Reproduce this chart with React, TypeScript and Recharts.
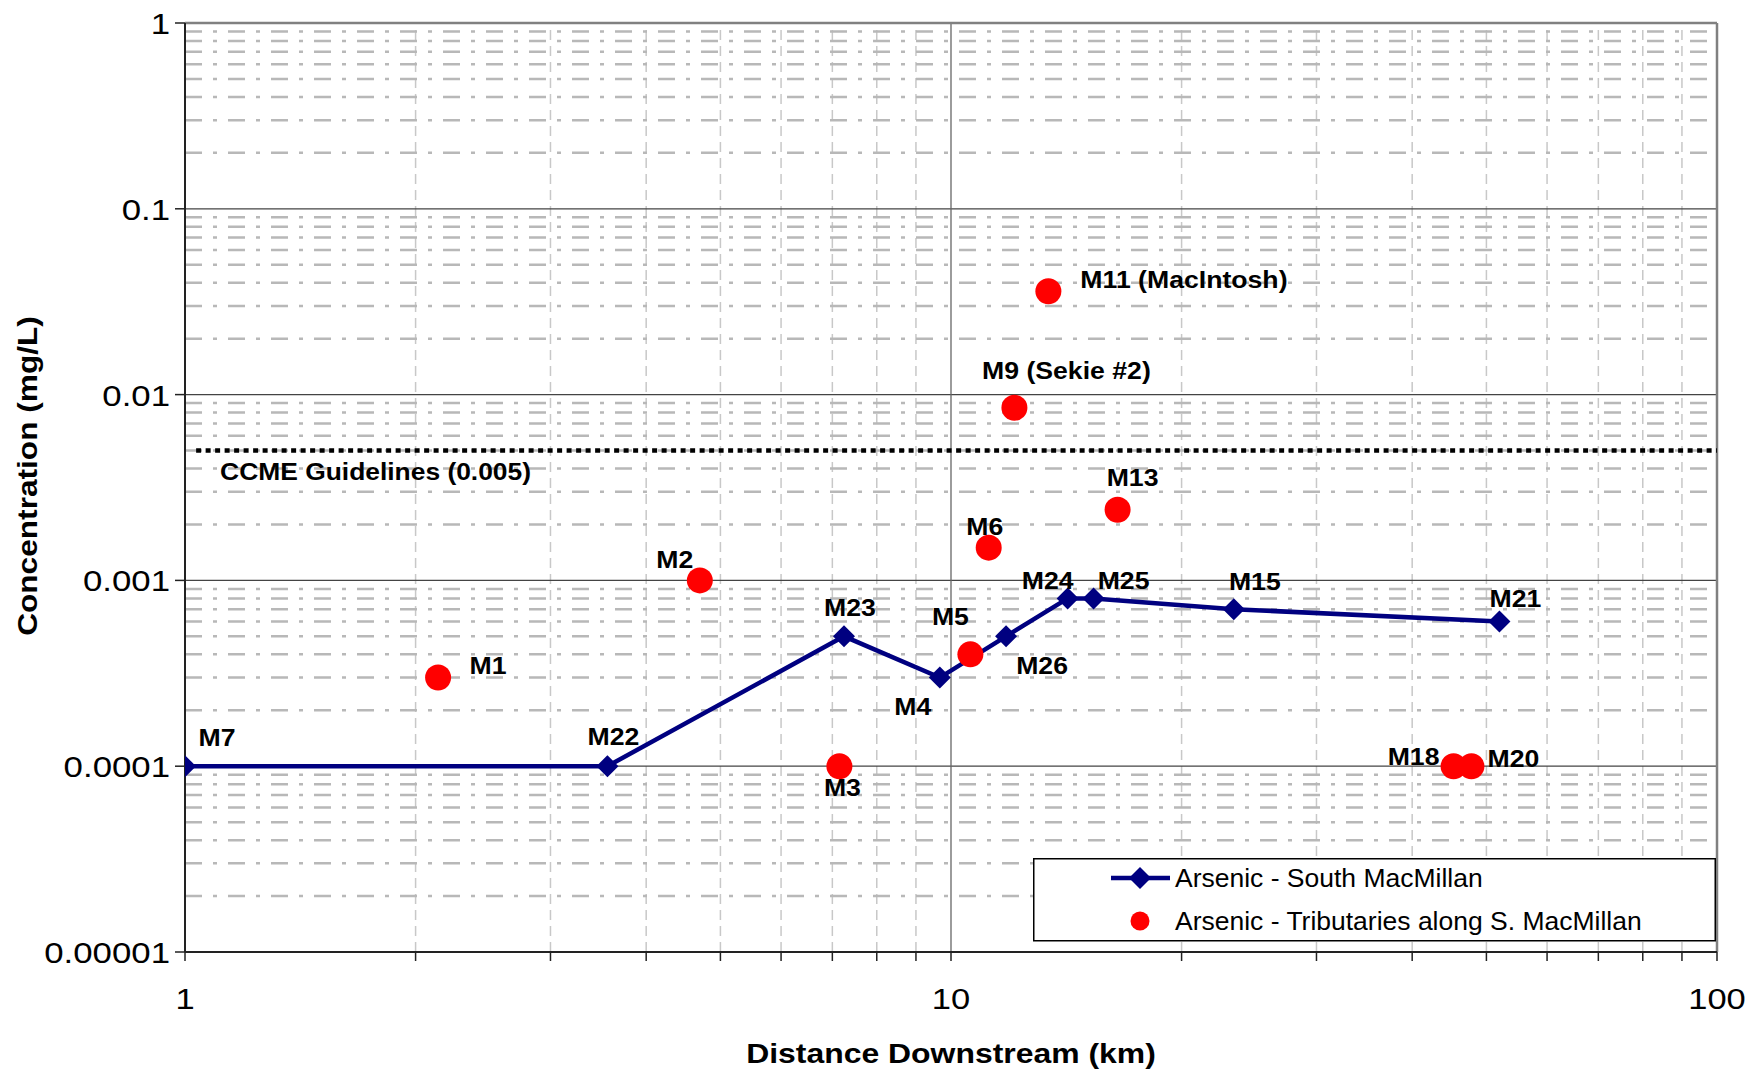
import { ComposedChart, Line, Scatter, XAxis, YAxis, ReferenceLine, Legend } from 'recharts'

// South MacMillan main-stem stations
const mainStations = ['M7', 'M22', 'M23', 'M4', 'M26', 'M24', 'M25', 'M15', 'M21']
const mainDistance = [1, 3.56, 7.25, 9.67, 11.8, 14.2, 15.35, 23.4, 52]
const mainArsenic = [0.0001, 0.0001, 0.0005, 0.0003, 0.0005, 0.0008, 0.0008, 0.0007, 0.0006]

// tributaries along S. MacMillan
const tribStations = ['M1', 'M2', 'M3', 'M5', 'M6', 'M9 (Sekie #2)', 'M11 (MacIntosh)', 'M13', 'M18', 'M20']
const tribDistance = [2.14, 4.7, 7.15, 10.6, 11.2, 12.1, 13.4, 16.5, 45.3, 47.8]
const tribArsenic = [0.0003, 0.001, 0.0001, 0.0004, 0.0015, 0.0085, 0.036, 0.0024, 0.0001, 0.0001]

const ccmeGuideline = 0.005
const ccmeLabel = 'CCME Guidelines (0.005)'

const xTicks = [1, 2, 3, 4, 5, 6, 7, 8, 9, 10, 20, 30, 40, 50, 60, 70, 80, 90, 100]
const xTickLabels: Record<number, string> = { 1: '1', 10: '10', 100: '100' }
const yTicks = [0.00001, 0.0001, 0.001, 0.01, 0.1, 1]
const yTickLabels = ['0.00001', '0.0001', '0.001', '0.01', '0.1', '1']

const xMinor = [2, 3, 4, 5, 6, 7, 8, 9, 20, 30, 40, 50, 60, 70, 80, 90]
const yDecades = [0.00001, 0.0001, 0.001, 0.01, 0.1]
const yMinorSteps = [2, 3, 4, 5, 6, 7, 8, 9]
const yMinor = yDecades.flatMap(d => yMinorSteps.map(m => +(d * m).toPrecision(3)))
const yMajor = [0.0001, 0.001, 0.01, 0.1]

// where each station label sits relative to its marker
const labelPlace: Record<string, [number, number, 'middle' | 'start']> = {
  M7: [32, -29, 'middle'],
  M22: [6, -30, 'middle'],
  M23: [6, -29, 'middle'],
  M4: [-27, 29, 'middle'],
  M26: [36, 29, 'middle'],
  M24: [-20, -18, 'middle'],
  M25: [30, -18, 'middle'],
  M15: [21, -28, 'middle'],
  M21: [16, -23, 'middle'],
  M1: [50, -12, 'middle'],
  M2: [-25, -21, 'middle'],
  M3: [3, 21, 'middle'],
  M5: [-20, -38, 'middle'],
  M6: [-4, -21, 'middle'],
  'M9 (Sekie #2)': [52, -37, 'middle'],
  'M11 (MacIntosh)': [32, -12, 'start'],
  M13: [15, -32, 'middle'],
  M18: [-40, -10, 'middle'],
  M20: [42, -8, 'middle'],
}

const mainData = mainStations.map((name, i) => ({ name, x: mainDistance[i], y: mainArsenic[i] }))
const tribData = tribStations.map((name, i) => ({ name, x: tribDistance[i], y: tribArsenic[i] }))

const FONT = '"Liberation Sans", Arial, sans-serif'
const NAVY = '#000080'
const RED = '#ff0000'

// the source chart's lettering runs a bit wider than Arial, so stretch it sideways
function SText({ x, y, size, bold, anchor = 'start', sx = 1, rotate = 0, children }: any) {
  return (
    <text
      transform={`translate(${x},${y}) rotate(${rotate}) scale(${sx},1)`}
      textAnchor={anchor}
      fontFamily={FONT}
      fontSize={size}
      fontWeight={bold ? 700 : 400}
      fill="#000"
    >
      {children}
    </text>
  )
}

function StationLabel({ cx, cy, name }: { cx: number; cy: number; name: string }) {
  const [dx, dy, anchor] = labelPlace[name] || [0, -20, 'middle']
  return (
    <SText x={cx + dx} y={cy + dy + 8.5} anchor={anchor} size={24} bold sx={1.11}>
      {name}
    </SText>
  )
}

function Diamond(props: any) {
  const { cx, cy, payload, index } = props
  const s = 11
  return (
    <g key={'d' + index}>
      <polygon points={`${cx},${cy - s} ${cx + s},${cy} ${cx},${cy + s} ${cx - s},${cy}`} fill={NAVY} />
      <StationLabel cx={cx} cy={cy} name={payload.name} />
    </g>
  )
}

function RedDot(props: any) {
  const { cx, cy, payload } = props
  return (
    <g>
      <circle cx={cx} cy={cy} r={13} fill={RED} />
      <StationLabel cx={cx} cy={cy} name={payload.name} />
    </g>
  )
}

function XTick(props: any) {
  const { x, y, payload } = props
  const label = xTickLabels[payload.value]
  if (!label) return <g />
  return (
    <SText x={x} y={y + 48} anchor="middle" size={30} sx={1.15}>
      {label}
    </SText>
  )
}

function YTick(props: any) {
  const { x, y, index } = props
  return (
    <SText x={x} y={y + 11} anchor="end" size={30} sx={1.16}>
      {yTickLabels[index]}
    </SText>
  )
}

function LegendBox() {
  return (
    <svg width={683} height={84} style={{ display: 'block' }}>
      <rect x={0.75} y={0.75} width={681.5} height={82} fill="#fff" stroke="#000" strokeWidth={1.5} />
      <line x1={78} y1={20} x2={137} y2={20} stroke={NAVY} strokeWidth={4.5} />
      <polygon points="107,9 118,20 107,31 96,20" fill={NAVY} />
      <SText x={142} y={29} size={25} sx={1.06}>Arsenic - South MacMillan</SText>
      <circle cx={107} cy={63} r={9.5} fill={RED} />
      <SText x={142} y={72} size={25} sx={1.06}>Arsenic - Tributaries along S. MacMillan</SText>
    </svg>
  )
}

export default function App() {
  return (
    <div style={{ position: 'absolute', left: 0, top: 0, background: '#fff' }}>
      <ComposedChart width={1750} height={1071} margin={{ top: 23, right: 33, bottom: 0, left: 0 }}>
        <XAxis
          type="number"
          dataKey="x"
          scale="log"
          domain={[1, 100]}
          allowDataOverflow
          ticks={xTicks}
          interval={0}
          height={119}
          tickSize={9}
          tickMargin={0}
          tick={XTick}
          axisLine={{ stroke: '#222', strokeWidth: 2 }}
          tickLine={{ stroke: '#222', strokeWidth: 1.5 }}
          label={{
            content: (p: any) => {
              const vb = p.viewBox
              return (
                <SText x={vb.x + vb.width / 2} y={vb.y + 110.5} anchor="middle" size={28} bold sx={1.14}>
                  Distance Downstream (km)
                </SText>
              )
            },
          }}
        />
        <YAxis
          type="number"
          dataKey="y"
          scale="log"
          domain={[0.00001, 1]}
          allowDataOverflow
          ticks={yTicks}
          interval={0}
          width={185}
          tickSize={10}
          tickMargin={5}
          tick={YTick}
          axisLine={{ stroke: '#222', strokeWidth: 2 }}
          tickLine={{ stroke: '#222', strokeWidth: 1.5 }}
          label={{
            content: () => (
              <SText x={37} y={476} rotate={-90} anchor="middle" size={28} bold sx={1.13}>
                Concentration (mg/L)
              </SText>
            ),
          }}
        />

        {xMinor.map(v => (
          <ReferenceLine key={'xm' + v} x={v} stroke="#c8c8c8" strokeWidth={1.5} strokeDasharray="10 6" />
        ))}
        {yMinor.map(v => (
          <ReferenceLine key={'ym' + v} y={v} stroke="#b8b8b8" strokeWidth={2.5} strokeDasharray="17 11 4 11" />
        ))}
        {yMajor.map(v => (
          <ReferenceLine key={'yM' + v} y={v} stroke="#444" strokeWidth={1.3} />
        ))}
        <ReferenceLine x={10} stroke="#666" strokeWidth={1.3} />
        <ReferenceLine y={1} stroke="#808080" strokeWidth={2.5} />
        <ReferenceLine x={100} stroke="#808080" strokeWidth={2.5} />

        <ReferenceLine
          segment={[{ x: 1.034, y: ccmeGuideline }, { x: 100, y: ccmeGuideline }]}
          stroke="#000"
          strokeWidth={4.5}
          strokeDasharray="5 4.5"
          label={{
            content: (p: any) => {
              const vb = p.viewBox || { x: 196, y: 450 }
              return (
                <SText x={vb.x + 24} y={vb.y + 29} size={24} bold sx={1.1}>
                  {ccmeLabel}
                </SText>
              )
            },
          }}
        />

        <Line
          data={mainData}
          dataKey="y"
          name="Arsenic - South MacMillan"
          stroke={NAVY}
          strokeWidth={4.5}
          dot={Diamond}
          activeDot={false}
          isAnimationActive={false}
        />
        <Scatter
          data={tribData}
          dataKey="y"
          name="Arsenic - Tributaries along S. MacMillan"
          fill={RED}
          shape={RedDot}
          isAnimationActive={false}
        />

        <Legend
          layout="vertical"
          align="center"
          verticalAlign="middle"
          content={() => <LegendBox />}
          wrapperStyle={{ left: 1033, top: 858, width: 683, height: 84 }}
        />
      </ComposedChart>
    </div>
  )
}
